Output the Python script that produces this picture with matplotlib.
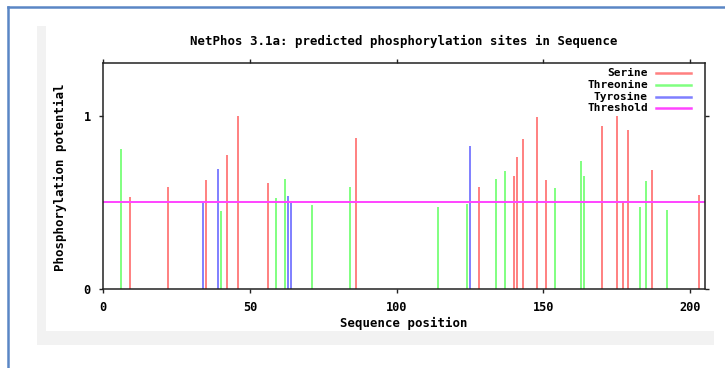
import matplotlib
matplotlib.use("Agg")
import matplotlib.pyplot as plt
from matplotlib.patches import Rectangle
from matplotlib.lines import Line2D

# ---- data ----
serine_pos = [9, 22, 35, 42, 46, 56, 86, 128, 140, 141, 143, 148, 151, 170, 175, 177, 179, 187, 203]
serine_val = [0.53, 0.59, 0.63, 0.77, 1.00, 0.61, 0.87, 0.59, 0.65, 0.76, 0.865, 0.99, 0.63, 0.94, 1.00, 0.507, 0.915, 0.686, 0.543]
threonine_pos = [6, 40, 59, 62, 71, 84, 114, 124, 134, 137, 154, 163, 164, 183, 185, 192]
threonine_val = [0.81, 0.45, 0.524, 0.636, 0.482, 0.588, 0.47, 0.488, 0.636, 0.678, 0.58, 0.74, 0.65, 0.47, 0.624, 0.457]
tyrosine_pos = [34, 39, 63, 64, 125]
tyrosine_val = [0.497, 0.694, 0.538, 0.495, 0.823]
threshold = 0.5
legend_labels = ["Serine", "Threonine", "Tyrosine", "Threshold"]
x_ticks = [0, 50, 100, 150, 200]
y_ticks = [0, 1]
title = "NetPhos 3.1a: predicted phosphorylation sites in Sequence"
xlabel = "Sequence position"
ylabel = "Phosphorylation potential"

# ---- style ----
c_ser = "#ff8080"
c_thr = "#80ff80"
c_tyr = "#7f7fff"
c_thresh = "#ff44ff"
FONT_BIG = dict(family="DejaVu Sans Mono", weight="bold", size=8.9)
FONT_TICK = dict(family="DejaVu Sans Mono", weight="bold", size=8.6)
FONT_LEG = dict(family="DejaVu Sans Mono", weight="bold", size=8.0)

W, H = 725, 368
fig = plt.figure(figsize=(W / 100, H / 100), dpi=100)
fig.patch.set_facecolor("white")

def fx(px):
    return px / W

def fy(py):
    return 1 - py / H

# background frame: gray shadow and white panel
fig.patches.append(Rectangle((fx(36.7), fy(345)), fx(714) - fx(36.7), fy(25.7) - fy(345),
                             transform=fig.transFigure, facecolor="#f2f2f2", edgecolor="none", zorder=-3))
fig.patches.append(Rectangle((fx(45.7), fy(331)), fx(716) - fx(45.7), fy(25.7) - fy(331),
                             transform=fig.transFigure, facecolor="white", edgecolor="none", zorder=-2))
# blue border (top and left)
fig.add_artist(Line2D([fx(8), 1.0], [fy(6.5), fy(6.5)], transform=fig.transFigure,
                      color="#5a86c5", lw=1.8, zorder=5))
fig.add_artist(Line2D([fx(8), fx(8)], [fy(6.5), 0.0], transform=fig.transFigure,
                      color="#5a86c5", lw=1.8, zorder=5))

ax = fig.add_axes([fx(103.3), fy(288.7), fx(704.7) - fx(103.3), fy(62.7) - fy(288.7)])
ax.set_facecolor("white")
ax.set_xlim(0, 205)
ax.set_ylim(0, 1.306)

bar_lw = 1.4
ax.vlines(serine_pos, 0, serine_val, colors=c_ser, lw=bar_lw, zorder=2)
ax.vlines(threonine_pos, 0, threonine_val, colors=c_thr, lw=bar_lw, zorder=2)
ax.vlines(tyrosine_pos, 0, tyrosine_val, colors=c_tyr, lw=bar_lw, zorder=2)
ax.axhline(threshold, color=c_thresh, lw=1.4, zorder=3)

for s in ax.spines.values():
    s.set_linewidth(1.1)
    s.set_color("#222222")
    s.set_zorder(4)

ax.set_xticks(x_ticks)
ax.set_yticks(y_ticks)
ax.set_xticklabels([str(v) for v in x_ticks], fontdict=FONT_TICK)
ax.set_yticklabels([str(v) for v in y_ticks], fontdict=FONT_TICK)
ax.tick_params(axis="both", direction="out", length=3, width=1.0, color="#222222", pad=6)
ax.tick_params(axis="x", top=True, labeltop=False)
ax.tick_params(axis="y", right=True, labelright=False)

fig.text(fx(404), fy(41.3), title, ha="center", va="center", **FONT_BIG)
fig.text(fx(404), fy(323), xlabel, ha="center", va="center", **FONT_BIG)
fig.text(fx(60), fy(177.5), ylabel, ha="center", va="center", rotation=90, **FONT_BIG)

# legend (right-aligned labels, sample lines to the right)
leg_colors = [c_ser, c_thr, c_tyr, c_thresh]
ax_h = 226.0
leg_rows_px = [73.3, 84.9, 96.5, 108.1]
for lab, col, py in zip(legend_labels, leg_colors, leg_rows_px):
    yy = (288.7 - py) / ax_h
    ax.text(0.9057, yy, lab, transform=ax.transAxes, ha="right", va="center", zorder=5, **FONT_LEG)
    ax.plot([0.9193, 0.9767], [yy, yy], transform=ax.transAxes, color=col, lw=1.8, zorder=5)

fig.savefig("out.png", dpi=100)
